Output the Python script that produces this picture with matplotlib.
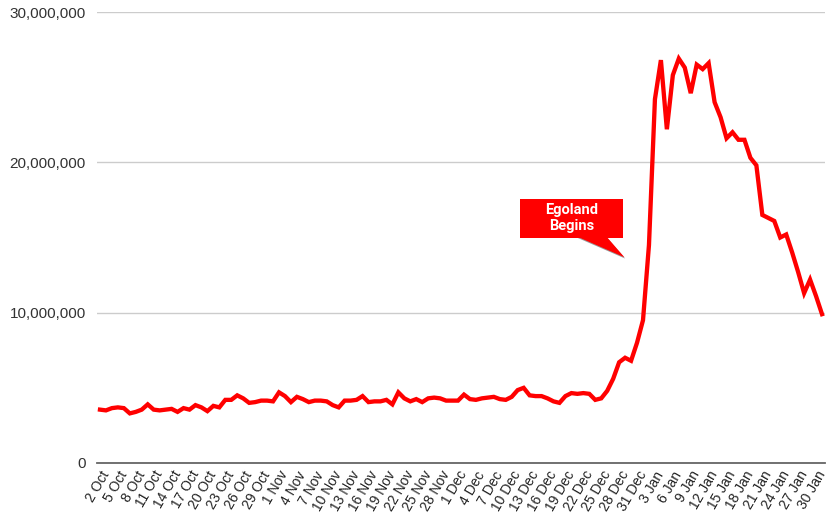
import datetime as dt
import matplotlib
matplotlib.use("Agg")
import matplotlib.pyplot as plt
from matplotlib.patches import Rectangle, Polygon

plt.rcParams['font.family'] = ['Liberation Sans', 'DejaVu Sans']

# daily values, 2 Oct .. 31 Jan (millions)
values_m = [
    3.55, 3.5, 3.65, 3.7, 3.65, 3.3, 3.4, 3.55, 3.9, 3.55,
    3.5, 3.55, 3.6, 3.4, 3.65, 3.55, 3.85, 3.7, 3.45, 3.8,
    3.7, 4.2, 4.2, 4.5, 4.3, 4.0, 4.05, 4.15, 4.15, 4.1,
    4.7, 4.45, 4.05, 4.4, 4.25, 4.05, 4.15, 4.15, 4.1, 3.85,
    3.7, 4.15, 4.15, 4.2, 4.45, 4.05, 4.1, 4.1, 4.2, 3.9,
    4.7, 4.3, 4.1, 4.25, 4.05, 4.3, 4.35, 4.3, 4.15, 4.15,
    4.15, 4.55, 4.25, 4.2, 4.3, 4.35, 4.4, 4.25, 4.2, 4.4,
    4.85, 5.0, 4.5, 4.45, 4.45, 4.3, 4.1, 4.0, 4.45, 4.65,
    4.6, 4.65, 4.6, 4.2, 4.3, 4.8, 5.6, 6.7, 7.0, 6.8,
    8.0, 9.5, 14.5, 24.2, 26.8, 22.2, 25.8, 26.9, 26.3, 24.6,
    26.5, 26.2, 26.6, 24.0, 23.0, 21.6, 22.0, 21.5, 21.5, 20.3,
    19.8, 16.5, 16.3, 16.1, 15.0, 15.2, 14.0, 12.7, 11.3, 12.2,
    11.1, 9.9,
]
values = [v * 1e6 for v in values_m]

start = dt.date(2023, 10, 2)
dates = [start + dt.timedelta(days=i) for i in range(len(values))]
day_labels = [f"{d.day} {d.strftime('%b')}" for d in dates]
y_ticks = [0, 10_000_000, 20_000_000, 30_000_000]

fig = plt.figure(figsize=(8.4, 5.21), dpi=100)
ax = fig.add_axes([97/840, 58/521, 728/840, 451/521])

x = list(range(len(values)))
ax.plot(x, values, color='#ff0000', lw=3.1, solid_joinstyle='miter', zorder=3)

ax.set_xlim(-0.5, len(values) - 0.5)
ax.set_ylim(0, 30_000_000)
ax.set_yticks(y_ticks)
ax.set_yticklabels([f"{v:,}" for v in y_ticks], fontsize=11, color='#333333')
ax.set_xticks(x[::3])
ax.set_xticklabels(day_labels[::3], rotation=60, ha='right', va='top',
                   rotation_mode='anchor', fontsize=10, color='#222222')
ax.tick_params(axis='both', length=0)
ax.tick_params(axis='y', pad=8)
ax.tick_params(axis='x', pad=4)

ax.grid(axis='y', color='#cccccc', lw=1)
ax.set_axisbelow(True)
for s in ['top', 'right', 'left']:
    ax.spines[s].set_visible(False)
ax.spines['bottom'].set_color('#666666')
ax.spines['bottom'].set_linewidth(1.3)

# callout
box = Rectangle((70.4, 15.0e6), 17.2, 2.55e6, facecolor='#ff0000',
                edgecolor='none', zorder=4)
ax.add_patch(box)
shadow = Polygon([(80.0, 14.98e6), (85.0, 14.98e6), (88.0, 13.6e6)],
                 closed=True, facecolor='#999999', edgecolor='none', zorder=3.5)
ax.add_patch(shadow)
tail = Polygon([(80.0, 15.05e6), (84.9, 15.05e6), (87.9, 13.68e6)],
               closed=True, facecolor='#ff0000', edgecolor='none', zorder=4)
ax.add_patch(tail)
ax.text(79.0, 16.3e6, "Egoland\nBegins", color='white', fontsize=10.5,
        fontweight='bold', ha='center', va='center', linespacing=1.15,
        family=['Roboto', 'DejaVu Sans'], zorder=5)

fig.savefig("out.png", dpi=100)
